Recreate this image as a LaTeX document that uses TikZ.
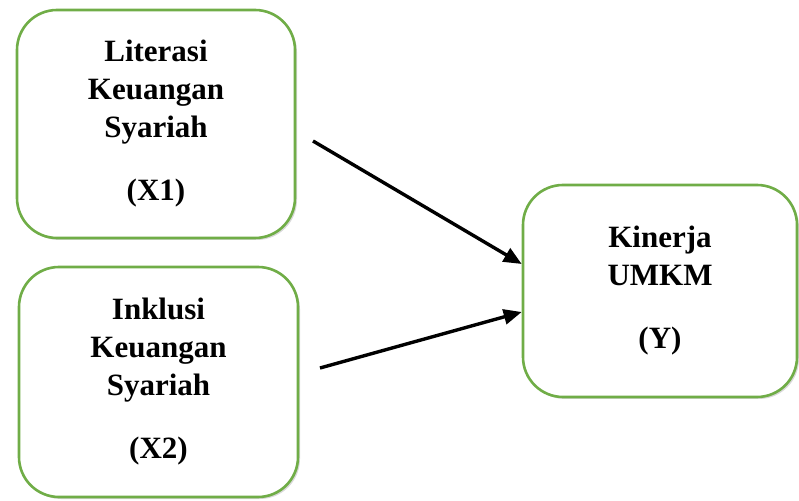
\documentclass[tikz,border=0pt]{standalone}
\usepackage{fontspec}
\setmainfont{Liberation Serif}
\usepackage{tikz}
\usetikzlibrary{arrows.meta, positioning, shadows}
\definecolor{box_green}{HTML}{70AD47}
\tikzset{
    varbox/.style={rectangle, draw=box_green, line width=2.6pt, rounded corners=40pt, fill=white, align=center,
        font=\fontsize{31pt}{38pt}\selectfont\bfseries,
        drop shadow={opacity=0.3, shadow xshift=2pt, shadow yshift=-2pt}},
    arrow/.style={line width=3.4pt, -{Triangle[length=18pt, width=15pt]}}
}

\begin{document}
\begin{tikzpicture}[x=1pt, y=1pt]
        \useasboundingbox (0,0) rectangle (799,500);

        \node (X1) [varbox, minimum width=278pt, minimum height=228pt] at (156, 376) {Literasi\\Keuangan\\Syariah\\[25pt](X1)};
        \node (X2) [varbox, minimum width=279pt, minimum height=230pt] at (158.5, 118) {Inklusi\\Keuangan\\Syariah\\[25pt](X2)};
        \node (Y) [varbox, minimum width=274pt, minimum height=212pt] at (660, 209) {Kinerja\\UMKM\\[25pt](Y)};

        \coordinate (X1_out) at (313, 359);
        \coordinate (X2_out) at (320, 132);

        % Paths to Y
        \draw[arrow] (X1_out) -- ([yshift=27pt]Y.west);
        \draw[arrow] (X2_out) -- ([yshift=-21pt]Y.west);

    \end{tikzpicture}
\end{document}
